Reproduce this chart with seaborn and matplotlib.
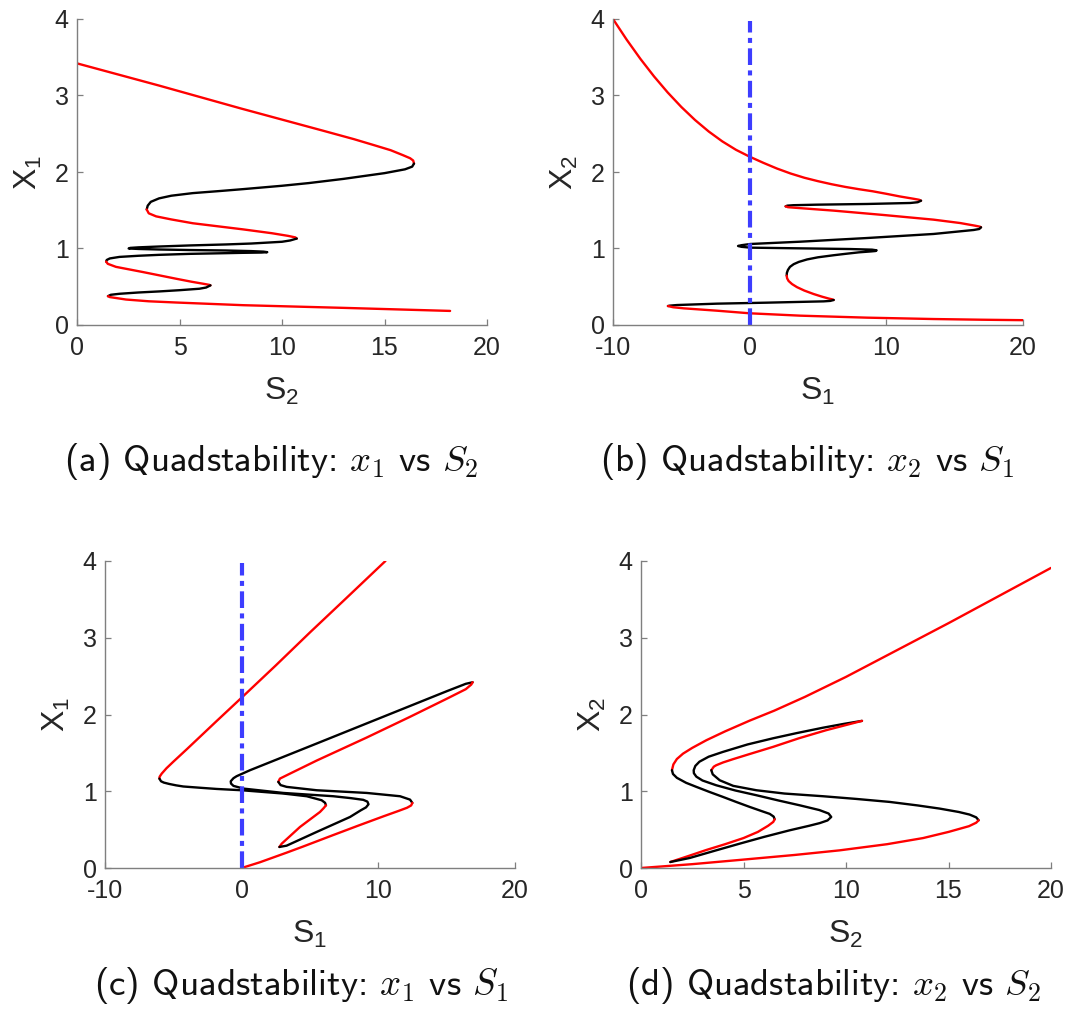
import os
import matplotlib
matplotlib.use("Agg")
import matplotlib.pyplot as plt
from matplotlib.font_manager import FontProperties
import pandas as pd
import seaborn as sns

# ---------------- data (S = parameter, X = state), C: R = stable, K = unstable
# Panel (a): x1 vs S2
a_S = [0.0, 4.0, 8.0, 12.0, 13.5, 14.5, 15.3, 15.9, 16.25, 16.4,
       16.44, 16.35, 16.0, 15.0, 13.0, 11.3, 10.0, 8.1, 7.0, 5.65, 4.6, 4.0, 3.6, 3.45,
       3.40, 3.5, 3.86, 4.6, 5.65, 8.1, 9.5, 10.3, 10.65,
       10.72, 10.4, 10.0, 8.5, 7.27, 5.5, 4.0, 3.0, 2.6, 2.52, 3.0, 4.0, 5.5, 7.27, 8.5, 9.1, 9.28,
       9.0, 8.0, 7.27, 5.5, 4.0, 3.0, 2.07, 1.6, 1.45,
       1.42, 1.5, 1.9, 3.2, 4.83, 5.6, 6.14, 6.45,
       6.51, 6.3, 5.97, 5.0, 4.02, 3.0, 2.07, 1.65,
       1.51, 1.6, 2.39, 3.5, 4.83, 8.1, 13.0, 18.2]
a_X = [3.42, 3.13, 2.83, 2.54, 2.43, 2.35, 2.285, 2.22, 2.18, 2.15,
       2.11, 2.07, 2.035, 1.985, 1.91, 1.855, 1.82, 1.776, 1.752, 1.724, 1.69, 1.655, 1.61, 1.56,
       1.51, 1.46, 1.42, 1.38, 1.33, 1.25, 1.20, 1.165, 1.145,
       1.13, 1.105, 1.088, 1.065, 1.053, 1.04, 1.026, 1.015, 1.008, 1.0, 0.994, 0.987, 0.98, 0.974, 0.966, 0.959, 0.952,
       0.947, 0.943, 0.939, 0.93, 0.917, 0.905, 0.89, 0.87, 0.85,
       0.829, 0.80, 0.76, 0.693, 0.605, 0.565, 0.54, 0.525,
       0.518, 0.49, 0.474, 0.455, 0.439, 0.425, 0.408, 0.395,
       0.377, 0.365, 0.333, 0.31, 0.294, 0.259, 0.224, 0.184]
a_C = ("R" * 10 + "K" * 14 + "R" * 9 + "K" * 26 + "R" * 8 + "K" * 8 + "R" * 8)

# Panel (b): x2 vs S1
b_S = [-10.0, -9.0, -8.0, -7.0, -6.0, -5.0, -4.0, -3.0, -2.0, -1.0, 0.0, 1.0, 2.0, 3.0, 4.0, 5.0,
       6.0, 7.0, 8.0, 9.0, 10.0, 11.0, 12.0, 12.4,
       12.54, 12.3, 11.76, 8.59, 4.93, 3.2, 2.75,
       2.63, 2.8, 3.22, 6.15, 9.8, 13.46, 15.4, 16.5, 16.85,
       16.93, 16.8, 16.39, 13.46, 8.59, 3.71, 0.05, -0.6, -0.85, -0.6, 0.05, 3.71, 7.37, 8.95, 9.29,
       9.2, 8.9, 8.0, 7.0, 6.15, 5.0, 4.2, 3.6, 3.22, 2.95, 2.8, 2.72,
       2.71, 2.74, 2.85, 3.1, 3.46, 4.0, 4.68, 5.3, 5.8, 6.05,
       6.15, 5.9, 5.41, 1.27, -2.39, -5.32, -5.85,
       -5.98, -5.6, -4.83, -2.39, 0.0, 3.71, 8.59, 13.46, 17.0, 20.0]
b_X = [4.0, 3.73, 3.48, 3.25, 3.04, 2.85, 2.68, 2.53, 2.40, 2.29, 2.20, 2.12, 2.045, 1.98, 1.925, 1.88,
       1.84, 1.805, 1.775, 1.748, 1.715, 1.68, 1.65, 1.637,
       1.625, 1.605, 1.595, 1.582, 1.573, 1.566, 1.56,
       1.551, 1.54, 1.534, 1.495, 1.438, 1.377, 1.333, 1.298, 1.285,
       1.277, 1.255, 1.242, 1.19, 1.137, 1.089, 1.059, 1.043, 1.033, 1.022, 1.011, 1.002, 0.993, 0.985, 0.976,
       0.967, 0.962, 0.95, 0.93, 0.912, 0.885, 0.857, 0.825, 0.795, 0.76, 0.72, 0.68,
       0.645, 0.61, 0.575, 0.535, 0.495, 0.45, 0.405, 0.37, 0.345, 0.335,
       0.327, 0.315, 0.309, 0.292, 0.279, 0.261, 0.253,
       0.248, 0.232, 0.218, 0.187, 0.153, 0.122, 0.096, 0.078, 0.069, 0.063]
b_C = ("R" * 24 + "K" * 7 + "R" * 9 + "K" * 27 + "R" * 10 + "K" * 7 + "R" * 10)

# Panel (c): x1 vs S1
c_S = [10.52, 7.5, 5.0, 2.5, 0.0, -1.83, -4.0, -5.0, -5.5, -5.85, -6.0,
       -6.02, -5.9, -5.7, -5.3, -4.8, -4.27, -3.0, -1.83, 0.0, 3.05, 4.76, 5.85, 6.1,
       6.17, 6.0, 5.73, 4.27, 2.93,
       2.76, 3.29, 5.49, 7.93, 8.7, 9.1, 9.28, 9.2, 8.9, 8.0, 6.71, 3.05, 0.12, -0.6, -0.78,
       -0.8, -0.6, -0.37, 0.61, 3.05, 5.49, 8.17, 12.5, 15.0, 16.4,
       16.9, 16.8, 16.4, 15.06, 12.32, 9.15, 5.49, 3.54, 2.8,
       2.68, 2.85, 3.29, 5.49, 9.15, 11.59, 12.32,
       12.49, 12.4, 12.1, 11.5, 10.4, 8.5, 6.71, 4.5, 3.29, 1.34, 0.0]
c_X = [4.0, 3.49, 3.07, 2.64, 2.22, 1.915, 1.55, 1.385, 1.30, 1.23, 1.19,
       1.165, 1.13, 1.113, 1.095, 1.077, 1.062, 1.045, 1.03, 1.013, 0.97, 0.935, 0.883, 0.85,
       0.817, 0.78, 0.73, 0.535, 0.317,
       0.274, 0.291, 0.47, 0.665, 0.75, 0.79, 0.83, 0.865, 0.888, 0.91, 0.935, 0.978, 1.035, 1.07, 1.1,
       1.13, 1.17, 1.196, 1.274, 1.448, 1.622, 1.814, 2.124, 2.303, 2.40,
       2.42, 2.39, 2.33, 2.21, 1.97, 1.70, 1.40, 1.23, 1.165,
       1.122, 1.08, 1.057, 1.013, 0.978, 0.935, 0.891,
       0.848, 0.815, 0.785, 0.745, 0.675, 0.55, 0.43, 0.28, 0.2, 0.075, 0.0]
c_C = ("R" * 11 + "K" * 13 + "R" * 5 + "K" * 15 + "K" * 10 + "R" * 9 + "K" * 7 + "R" * 11)

# Panel (d): x2 vs S2
d_S = [20.0, 17.5, 15.0, 12.5, 10.0, 8.0, 6.5, 5.3, 4.1, 3.19, 2.5, 2.05, 1.75, 1.58,
       1.51, 1.56, 1.75, 2.2, 2.7, 3.35, 4.0, 4.65, 5.3, 5.9, 6.28, 6.47,
       6.52, 6.45, 6.2, 5.7, 5.0, 4.1, 3.19, 2.3,
       1.43, 2.37, 3.6, 4.81, 6.0, 7.25, 8.2, 8.72, 9.1, 9.28, 9.15, 8.7, 7.74, 6.7, 5.63, 4.6, 3.67, 3.0, 2.7, 2.58,
       2.57, 2.65, 2.85, 3.3, 4.0, 5.2, 6.44, 7.6, 8.88, 9.9,
       10.78, 9.04, 7.7, 6.44, 5.3, 4.49, 4.0, 3.67, 3.55,
       3.43, 3.5, 3.84, 4.5, 5.63, 7.0, 8.88, 10.5, 12.13, 13.5, 14.57, 15.5, 16.03, 16.35,
       16.47, 16.35, 16.0, 15.0, 13.76, 12.0, 9.69, 7.5, 4.81, 2.5, 0.0]
d_X = [3.91, 3.55, 3.19, 2.84, 2.49, 2.23, 2.05, 1.92, 1.78, 1.665, 1.565, 1.49, 1.42, 1.35,
       1.274, 1.225, 1.175, 1.11, 1.057, 0.99, 0.926, 0.86, 0.796, 0.74, 0.705, 0.67,
       0.635, 0.60, 0.55, 0.47, 0.39, 0.31, 0.235, 0.155,
       0.078, 0.13, 0.225, 0.317, 0.405, 0.491, 0.55, 0.585, 0.62, 0.665, 0.71, 0.755, 0.817, 0.88, 0.948, 1.01, 1.078, 1.14, 1.19, 1.235,
       1.274, 1.33, 1.385, 1.45, 1.513, 1.61, 1.69, 1.758, 1.828, 1.878,
       1.917, 1.796, 1.69, 1.578, 1.485, 1.418, 1.375, 1.339, 1.32,
       1.274, 1.22, 1.143, 1.07, 1.013, 0.97, 0.935, 0.90, 0.861, 0.815, 0.774, 0.73, 0.696, 0.66,
       0.622, 0.59, 0.545, 0.47, 0.39, 0.31, 0.23, 0.17, 0.105, 0.05, 0.0]
d_C = ("R" * 14 + "K" * 12 + "R" * 8 + "K" * 20 + "K" * 10 + "R" * 9 + "K" * 14 + "R" * 11)

# vertical reference line (S = 0) in panels (b) and (c)
ref_S = [0.0, 0.0]
ref_X = [0.0, 3.97]

xlims = {"a": (0, 20), "b": (-10, 20), "c": (-10, 20), "d": (0, 20)}
xticks = {"a": [0, 5, 10, 15, 20], "b": [-10, 0, 10, 20], "c": [-10, 0, 10, 20], "d": [0, 5, 10, 15, 20]}
yticks = [0, 1, 2, 3, 4]
xlabels = {"a": r"$\mathregular{S_2}$", "b": r"$\mathregular{S_1}$", "c": r"$\mathregular{S_1}$", "d": r"$\mathregular{S_2}$"}
ylabels = {"a": r"$\mathregular{X_1}$", "b": r"$\mathregular{X_2}$", "c": r"$\mathregular{X_1}$", "d": r"$\mathregular{X_2}$"}
captions = {
    "a": r"(a) Quadstability: $x_1$ vs $S_2$",
    "b": r"(b) Quadstability: $x_2$ vs $S_1$",
    "c": r"(c) Quadstability: $x_1$ vs $S_1$",
    "d": r"(d) Quadstability: $x_2$ vs $S_2$",
}

# ---------------- style
sns.set_theme(style="ticks")
plt.rcParams["font.family"] = ["Liberation Sans", "DejaVu Sans"]
plt.rcParams["mathtext.fontset"] = "cm"

W, H = 1068, 1023
fig = plt.figure(figsize=(W / 100, H / 100), dpi=100)
fig.patch.set_facecolor("white")

# axes boxes in pixels: left, top, right, bottom
boxes = {"a": (77, 19, 487, 325), "b": (613, 19, 1023, 325),
         "c": (105, 561, 515, 868), "d": (641, 561, 1051, 868)}
paths = {"a": (a_S, a_X, a_C), "b": (b_S, b_X, b_C), "c": (c_S, c_X, c_C), "d": (d_S, d_X, d_C)}
cap_pos = {"a": (271, 462), "b": (807, 462), "c": (301, 985), "d": (833, 985)}
cap_width = 415

RED = "#ff0000"
AXC = "#7f7f7f"
TXT = "#262626"

cmss_path = os.path.join(matplotlib.get_data_path(), "fonts", "ttf", "cmss10.ttf")


def draw_path(ax, S, X, C):
    n = len(S)
    runs = []
    start = 0
    for i in range(1, n):
        if C[i] != C[start]:
            runs.append((start, i))
            start = i
    runs.append((start, n - 1))
    for s, e in runs:
        df = pd.DataFrame({"S": S[s:e + 1], "X": X[s:e + 1]})
        sns.lineplot(data=df, x="S", y="X", sort=False, estimator=None,
                     color=RED if C[s] == "R" else "black", lw=1.7, ax=ax,
                     solid_capstyle="round", solid_joinstyle="round")


cap_texts = []
for key in ["a", "b", "c", "d"]:
    l, t, r, b = boxes[key]
    ax = fig.add_axes([l / W, 1 - b / H, (r - l) / W, (b - t) / H])
    ax.set_facecolor("white")
    S, X, C = paths[key]
    draw_path(ax, S, X, C)
    if key in ("b", "c"):
        sns.lineplot(x=ref_S, y=ref_X, sort=False, estimator=None, color="#3d3dff",
                     lw=3.0, ls=(0, (4.0, 1.3, 1.2, 1.3)), ax=ax)
    ax.set_xlim(*xlims[key])
    ax.set_ylim(0, 4)
    ax.set_xticks(xticks[key])
    ax.set_yticks(yticks)
    ax.set_xticklabels([str(v) for v in xticks[key]])
    ax.set_yticklabels([str(v) for v in yticks])
    for sp in ("top", "right"):
        ax.spines[sp].set_visible(False)
    for sp in ("left", "bottom"):
        ax.spines[sp].set_color(AXC)
        ax.spines[sp].set_linewidth(1.0)
    ax.tick_params(axis="both", direction="in", length=4, width=0.9, color=AXC,
                   labelsize=18, labelcolor=TXT)
    ax.tick_params(axis="x", pad=8)
    ax.tick_params(axis="y", pad=6)
    ax.set_xlabel(xlabels[key], fontsize=23, color=TXT)
    ax.set_ylabel(ylabels[key], fontsize=23, color=TXT)
    ax.xaxis.set_label_coords(0.5, -0.165)
    ax.yaxis.set_label_coords(-0.08, 0.5)
    ax.grid(False)
    cx, cy = cap_pos[key]
    fp = FontProperties(fname=cmss_path, size=24)
    txt = fig.text(cx / W, 1 - cy / H, captions[key], ha="center", va="center",
                   fontproperties=fp, color="#111111")
    cap_texts.append(txt)

# fit caption widths to the reference
fig.canvas.draw()
renderer = fig.canvas.get_renderer()
for txt in cap_texts:
    w = txt.get_window_extent(renderer).width
    txt.set_fontsize(24 * cap_width / w)

fig.savefig("out.png", dpi=100, facecolor="white")
